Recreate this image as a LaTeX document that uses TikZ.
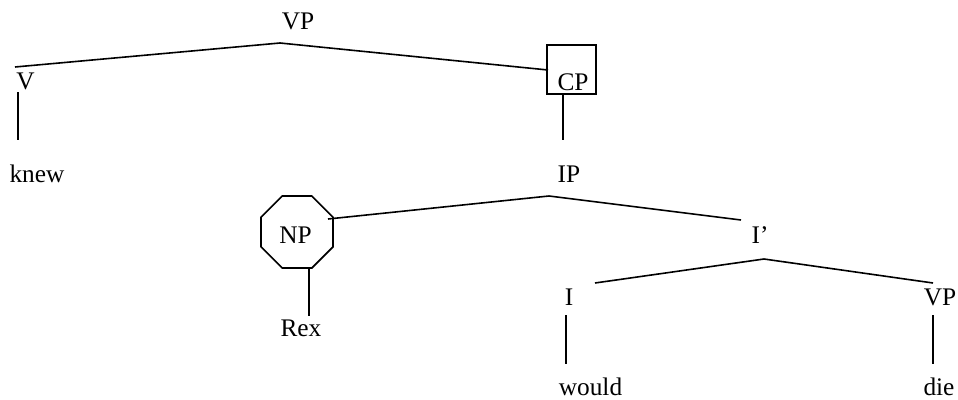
\documentclass[tikz,border=0pt]{standalone}
\usepackage{fontspec}
\setmainfont{Liberation Serif}
\usetikzlibrary{shapes.geometric}
\begin{document}
\begin{tikzpicture}[x=0.75pt,y=-0.75pt,
  lbl/.style={anchor=base,inner sep=0pt,font=\fontsize{19}{21}\selectfont},
  edge/.style={line width=1.2pt}]
\useasboundingbox (0,0) rectangle (958,400);
% labels
\node[lbl] (vp) at (298,29.3) {VP};
\node[lbl] (v) at (25.5,89) {V};
\node[lbl] (knew) at (37,182) {knew};
\node[lbl] (cp) at (573,90) {CP};
\node[lbl] (ip) at (569,182) {IP};
\node[lbl] (np) at (295.5,243) {NP};
\node[lbl] (rex) at (301,336) {Rex};
\node[lbl] (ibar) at (760,243) {I’};
\node[lbl] (i) at (569,305) {I};
\node[lbl] (vp2) at (940,305) {VP};
\node[lbl] (would) at (590.5,395) {would};
\node[lbl] (die) at (939,395) {die};
% shapes
\node[draw,edge,rectangle,minimum width=36.75pt,minimum height=36.75pt,inner sep=0pt] (cpbox) at (571.5,69.5) {};
\node[draw,edge,regular polygon,regular polygon sides=8,minimum size=58.4pt,inner sep=0pt] (npoct) at (297,232) {};
% connection points
\coordinate (vpa) at (280,43);
\coordinate (vl) at (15,67);
\coordinate (vr) at (548,70);
\coordinate (vt) at (18,92);
\coordinate (vb) at (18,140);
\coordinate (cpt) at (563,94);
\coordinate (cpb) at (563,140);
\coordinate (ipa) at (549,196);
\coordinate (ipl) at (328,219);
\coordinate (ipr) at (741,220);
\coordinate (npt) at (309,268);
\coordinate (npb) at (309,316);
\coordinate (iba) at (764,259);
\coordinate (ibl) at (595,283);
\coordinate (ibr) at (933,283);
\coordinate (it) at (566,315);
\coordinate (ib) at (566,364);
\coordinate (vpt) at (933,315);
\coordinate (vpb) at (933,364);
% connectors
\draw[edge] (vl) -- (vpa) -- (vr);
\draw[edge] (vt) -- (vb);
\draw[edge] (cpt) -- (cpb);
\draw[edge] (ipl) -- (ipa) -- (ipr);
\draw[edge] (npt) -- (npb);
\draw[edge] (ibl) -- (iba) -- (ibr);
\draw[edge] (it) -- (ib);
\draw[edge] (vpt) -- (vpb);
\end{tikzpicture}
\end{document}
